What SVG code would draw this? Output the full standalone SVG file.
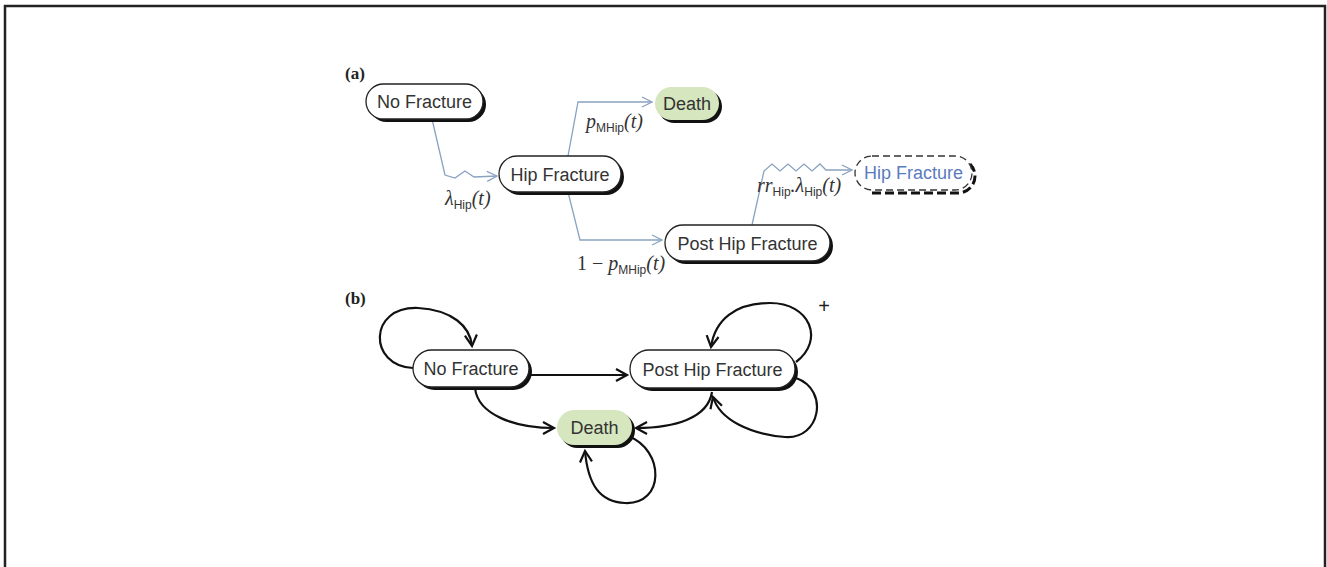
<svg xmlns="http://www.w3.org/2000/svg" width="1327" height="567" viewBox="0 0 1327 567">
<defs>
<style>
.sh{fill:#111}
.nd{fill:#fff;stroke:#222;stroke-width:1.3}
.gr{fill:#d6e7bf;stroke:none}
.lbl{font-family:"Liberation Sans",Arial,sans-serif;font-size:18px;fill:#333;text-anchor:middle}
.math{font-family:"Liberation Serif","DejaVu Serif",serif;font-style:italic;font-size:20px;fill:#333}
.sub{font-family:"Liberation Sans",Arial,sans-serif;font-style:normal;font-size:12px}
.pl{font-family:"Liberation Serif",serif;font-size:17px;font-weight:bold;fill:#222}
.ca{fill:none;stroke:#8aa2c0;stroke-width:1.3}
.cb{fill:none;stroke:#111;stroke-width:2.2}
</style>
<marker id="ab" markerUnits="userSpaceOnUse" markerWidth="14" markerHeight="14" refX="11" refY="6" orient="auto" viewBox="0 0 14 12">
<path d="M1,1 L11,6 L1,11" fill="none" stroke="#8aa2c0" stroke-width="1.3"/>
</marker>
<marker id="bb" markerUnits="userSpaceOnUse" markerWidth="16" markerHeight="16" refX="12" refY="7" orient="auto" viewBox="0 0 16 14">
<path d="M1,1 L12,7 L1,13" fill="none" stroke="#111" stroke-width="2.2"/>
</marker>
</defs>
<rect width="1327" height="567" fill="#fff"/>
<path d="M5,567 V6 H1325 V567" fill="none" stroke="#222" stroke-width="2.5"/>

<text class="pl" x="345" y="79">(a)</text>
<text class="pl" x="345" y="304">(b)</text>

<g id="connectors">
<path class="ca" d="M432,119 L445,175 L455,178 L465,171 L474,177 L497,176" marker-end="url(#ab)"/>
<path class="ca" d="M568,156 L578,102 L652,102" marker-end="url(#ab)"/>
<path class="ca" d="M568,192 L580,240 L662,240" marker-end="url(#ab)"/>
<path class="ca" d="M752,225 L764,171 L772,164 L780,171 L788,164 L796,171 L804,164 L812,171 L820,164 L826,170 L852,170" marker-end="url(#ab)"/>

<path class="cb" d="M413,368 C368,366 368,306 418,308 C452,310 470,326 472,346" marker-end="url(#bb)"/>
<path class="cb" d="M530,375 L627,375" marker-end="url(#bb)"/>
<path class="cb" d="M475,388 C478,415 515,428 554,428" marker-end="url(#bb)"/>
<path class="cb" d="M712,392 C708,418 675,428 636,428" marker-end="url(#bb)"/>
<path class="cb" d="M796,362 C825,340 810,303 770,303 C735,303 715,320 711,347" marker-end="url(#bb)"/>
<path class="cb" d="M796,378 C830,390 820,440 785,437 C750,434 720,420 713,397" marker-end="url(#bb)"/>
<path class="cb" d="M628,436 C665,450 665,505 625,503 C600,502 588,485 585,451" marker-end="url(#bb)"/>
</g>

<g id="a-no-fracture">
<rect class="sh" x="369" y="87" width="117" height="35" rx="17.5"/>
<rect class="nd" x="366" y="84" width="117" height="35" rx="17.5"/>
<text class="lbl" x="424.5" y="108">No Fracture</text>
</g>
<g id="a-hip-fracture">
<rect class="sh" x="502" y="159" width="122" height="36" rx="18"/>
<rect class="nd" x="499" y="156" width="122" height="36" rx="18"/>
<text class="lbl" x="560" y="181">Hip Fracture</text>
</g>
<g id="a-death">
<rect class="sh" x="658" y="90" width="64" height="33" rx="16.5"/>
<rect class="gr" x="655" y="87" width="64" height="33" rx="16.5"/>
<text class="lbl" x="687" y="110">Death</text>
</g>
<g id="a-post-hip-fracture">
<rect class="sh" x="668" y="228" width="165" height="36" rx="18"/>
<rect class="nd" x="665" y="225" width="165" height="36" rx="18"/>
<text class="lbl" x="747.5" y="250">Post Hip Fracture</text>
</g>
<g id="a-hip-fracture-next">
<path d="M872,193 H958 A17,17 0 0 0 975,176 A17,17 0 0 0 970,164" fill="none" stroke="#111" stroke-width="3" stroke-dasharray="9,4"/>
<rect x="855" y="156" width="117" height="34" rx="17" fill="#fff" stroke="#333" stroke-width="1.3" stroke-dasharray="7,4"/>
<text class="lbl" x="913.5" y="179" style="fill:#5a7cbd">Hip Fracture</text>
</g>

<g id="a-labels">
<text class="math" x="586" y="128">p<tspan class="sub" dy="4">MHip</tspan><tspan dy="-4">(t)</tspan></text>
<text class="math" x="445" y="205">λ<tspan class="sub" dy="4">Hip</tspan><tspan dy="-4">(t)</tspan></text>
<text class="math" x="577" y="270"><tspan style="font-style:normal">1 − </tspan>p<tspan class="sub" dy="4">MHip</tspan><tspan dy="-4">(t)</tspan></text>
<text class="math" x="757" y="192">rr<tspan class="sub" dy="4">Hip</tspan><tspan dy="-4">.λ</tspan><tspan class="sub" dy="4">Hip</tspan><tspan dy="-4">(t)</tspan></text>
</g>

<g id="b-no-fracture">
<rect class="sh" x="416" y="353" width="116" height="37" rx="18.5"/>
<rect class="nd" x="413" y="350" width="116" height="37" rx="18.5"/>
<text class="lbl" x="471" y="375">No Fracture</text>
</g>
<g id="b-post-hip-fracture">
<rect class="sh" x="633" y="353" width="165" height="38" rx="19"/>
<rect class="nd" x="630" y="350" width="165" height="38" rx="19"/>
<text class="lbl" x="712.5" y="376">Post Hip Fracture</text>
</g>
<g id="b-death">
<rect class="sh" x="560" y="413" width="75" height="35" rx="17.5"/>
<rect class="gr" x="557" y="410" width="75" height="35" rx="17.5"/>
<text class="lbl" x="594.5" y="434">Death</text>
</g>
<text x="824" y="313" font-family="Liberation Sans, Arial, sans-serif" font-size="20" fill="#222" text-anchor="middle">+</text>
</svg>
